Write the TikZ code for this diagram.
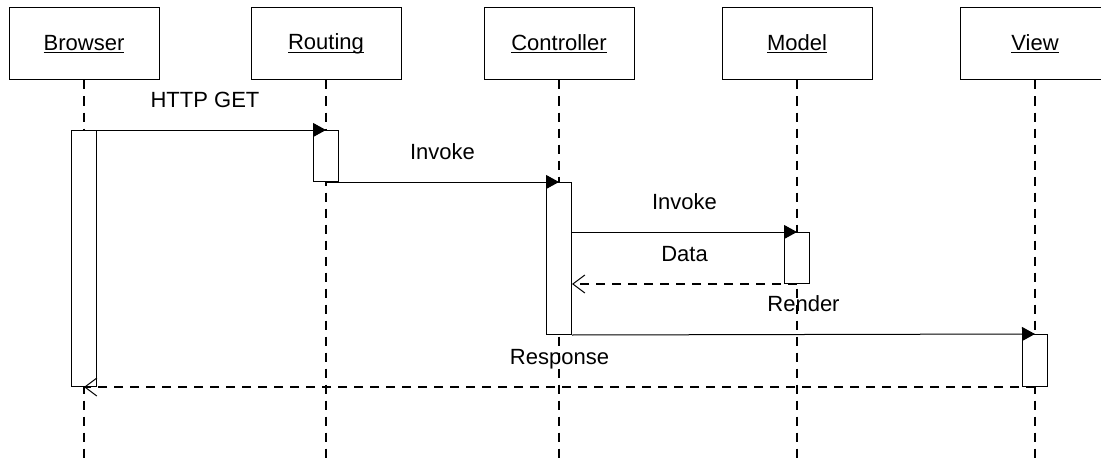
\documentclass[tikz,border=0pt]{standalone}
\usepackage{fontspec}
\setmainfont{Liberation Sans}
\usetikzlibrary{arrows.meta}

% participant name with a thin rule just under the baseline
\newcommand\namerule[1]{\setbox0\hbox{#1}\rlap{\rule[-3pt]{\wd0}{1pt}}\box0}

\begin{document}
\begin{tikzpicture}[x=1pt,y=-1pt,
  every node/.style={font=\fontsize{22}{26}\selectfont},
  actor/.style={draw, line width=1pt, fill=white, minimum width=150pt,
    minimum height=72pt, inner sep=0pt},
  act/.style={draw, line width=1pt, fill=white, minimum width=25pt,
    inner sep=0pt, anchor=north},
  life/.style={line width=2pt, dash pattern=on 9pt off 7pt},
  call/.style={line width=1pt, -{Triangle[length=13pt,width=14pt]}},
  reply/.style={line width=2pt, dash pattern=on 9pt off 7pt,
    -{Straight Barb[length=12pt,width=18pt,line width=1pt]}},
  msg/.style={midway, anchor=base, yshift=23pt}]

\useasboundingbox (0,0) rectangle (1101,460);
\fill[white] (0,0) rectangle (1101,460);
\clip (0,0) rectangle (1101,460);

% participants
\node[actor] (hB) at (84,44)   {\namerule{Browser}};
\node[actor] (hR) at (326,44)  {\namerule{Routing}};
\node[actor] (hC) at (559,44)  {\namerule{Controller}};
\node[actor] (hM) at (797,44)  {\namerule{Model}};
\node[actor] (hV) at (1035,44) {\namerule{View}};

% lifelines
\coordinate (bot) at (0,470);
\foreach \p in {hB,hR,hC,hM,hV}
  \draw[life] (\p.south) -- (\p.south |- bot);

% activation bars
\node[act, minimum height=256pt] (aB) at (84,130)   {};
\node[act, minimum height=51pt]  (aR) at (326,130)  {};
\node[act, minimum height=152pt] (aC) at (559,182)  {};
\node[act, minimum height=51pt]  (aM) at (797,232)  {};
\node[act, minimum height=52pt]  (aV) at (1035,334) {};

% messages
\draw[call] (aB.north) -- (aR.north) node[msg] {HTTP GET};
\draw[call] (aR.south) -- (aC.north) node[msg] {Invoke};
\draw[call] (aC.east |- aM.north) -- (aM.north) node[msg] {Invoke};
\draw[reply] (aM.south) -- (aC.east |- aM.south) node[msg] {Data};
\draw[call] (aC.south east) -- (aV.north) node[msg] {Render};
\draw[reply] (aV.south) -- (aB.south) node[msg] {Response};

\end{tikzpicture}
\end{document}
